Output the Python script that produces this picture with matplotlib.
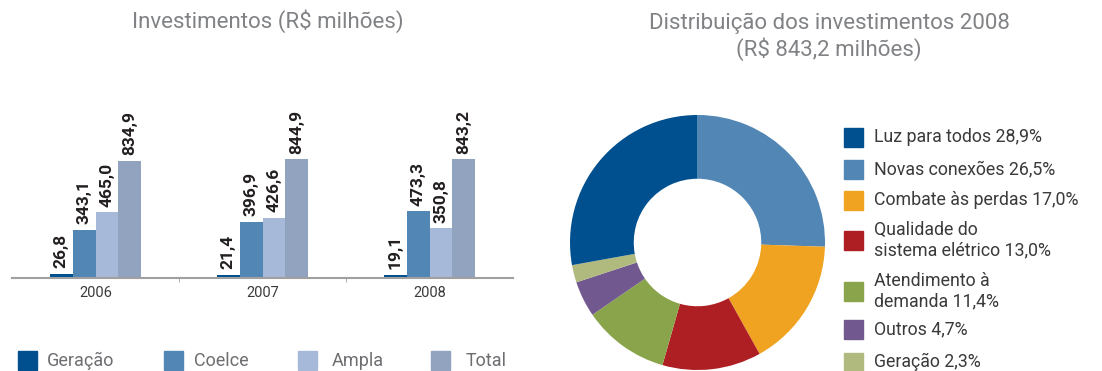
import matplotlib.pyplot as plt
import numpy as np
from matplotlib.patches import Rectangle

plt.rcParams['font.family'] = ['Roboto', 'DejaVu Sans']

# Investimentos por ano (R$ milhões)
anos = ['2006', '2007', '2008']
geracao = [26.8, 21.4, 19.1]
coelce = [343.1, 396.9, 473.3]
ampla = [465.0, 426.6, 350.8]
total = [834.9, 844.9, 843.2]
series_nomes = ['Geração', 'Coelce', 'Ampla', 'Total']
series_cores = ['#00508f', '#5286b5', '#a7b9d8', '#91a3be']

# Distribuição dos investimentos 2008 (%)
dist_nomes = ['Luz para todos', 'Novas conexões', 'Combate às perdas',
              'Qualidade do\nsistema elétrico', 'Atendimento à\ndemanda',
              'Outros', 'Geração']
dist_valores = [28.9, 26.5, 17.0, 13.0, 11.4, 4.7, 2.3]
dist_cores = ['#00508f', '#5286b5', '#f0a321', '#ae1f24', '#8aa44b',
              '#71588e', '#b0b97e']

W, H = 1102, 371
fig = plt.figure(figsize=(W / 100, H / 100), dpi=100)

def px(x, y):
    return x / W, 1 - y / H

grey_title = '#808285'
dark = '#3a3a3c'

# ---- bar chart
ax = fig.add_axes([12 / W, (H - 277.7) / H, 501 / W, 177.7 / H])
x = np.arange(len(anos))
bw = 0.137
for i, (vals, cor) in enumerate(zip([geracao, coelce, ampla, total], series_cores)):
    pos = x + (i - 1.5) * bw
    bars = ax.bar(pos, vals, width=bw, color=cor)
    for xp, v in zip(pos, vals):
        ax.annotate(f'{v:.1f}'.replace('.', ','), (xp, v), xytext=(0, 4),
                    textcoords='offset points', rotation=90, ha='center',
                    va='bottom', fontsize=12.5, fontweight='bold', color='#231f20')
ax.set_xlim(-0.5, 2.5)
ax.set_ylim(0, 1266)
for s in ['top', 'right', 'left']:
    ax.spines[s].set_visible(False)
ax.spines['bottom'].set_color('#a0a0a0')
ax.spines['bottom'].set_linewidth(1.5)
ax.set_yticks([])
ax.set_xticks(x)
ax.set_xticklabels(anos, fontsize=10.5, color=dark)
ax.tick_params(axis='x', which='major', length=0, pad=6)
ax.set_xticks([0.5, 1.5], minor=True)
ax.tick_params(axis='x', which='minor', length=3, color='#a0a0a0')

fig.text(*px(268, 21), 'Investimentos (R$ milhões)', ha='center', va='center',
         fontsize=16, color=grey_title)

leg_items = [(18, 47), (164, 194), (298, 332), (431, 466)]
for (sx, tx), nome, cor in zip(leg_items, series_nomes, series_cores):
    fig.patches.append(Rectangle(px(sx, 370), 19 / W, 19 / H, color=cor,
                                 transform=fig.transFigure, figure=fig))
    fig.text(*px(tx, 361), nome, ha='left', va='center', fontsize=13,
             color='#6d6e71')

# ---- donut
ax2 = fig.add_axes([570 / W, (H - 370) / H, 255 / W, 255 / H])
ordem = [1, 2, 3, 4, 5, 6, 0]
ax2.pie([dist_valores[k] for k in ordem], colors=[dist_cores[k] for k in ordem],
        startangle=90, counterclock=False, radius=1,
        wedgeprops=dict(width=0.5, linewidth=0))
ax2.set_xlim(-1, 1)
ax2.set_ylim(-1, 1)
ax2.axis('off')

fig.text(*px(829, 37), 'Distribuição dos investimentos 2008\n(R$ 843,2 milhões)',
         ha='center', va='center', fontsize=16, color=grey_title, linespacing=1.2)

leg_y = [137, 169, 200, 240, 291, 329, 362]
for yc, nome, v, cor in zip(leg_y, dist_nomes, dist_valores, dist_cores):
    fig.patches.append(Rectangle(px(844, yc + 9.5), 19 / W, 19 / H, color=cor,
                                 transform=fig.transFigure, figure=fig))
    fig.text(*px(874, yc), f'{nome} {v:.1f}%'.replace('.', ','), ha='left',
             va='center', fontsize=12.8, color=dark, linespacing=1.2)

fig.savefig('out.png', dpi=100)
